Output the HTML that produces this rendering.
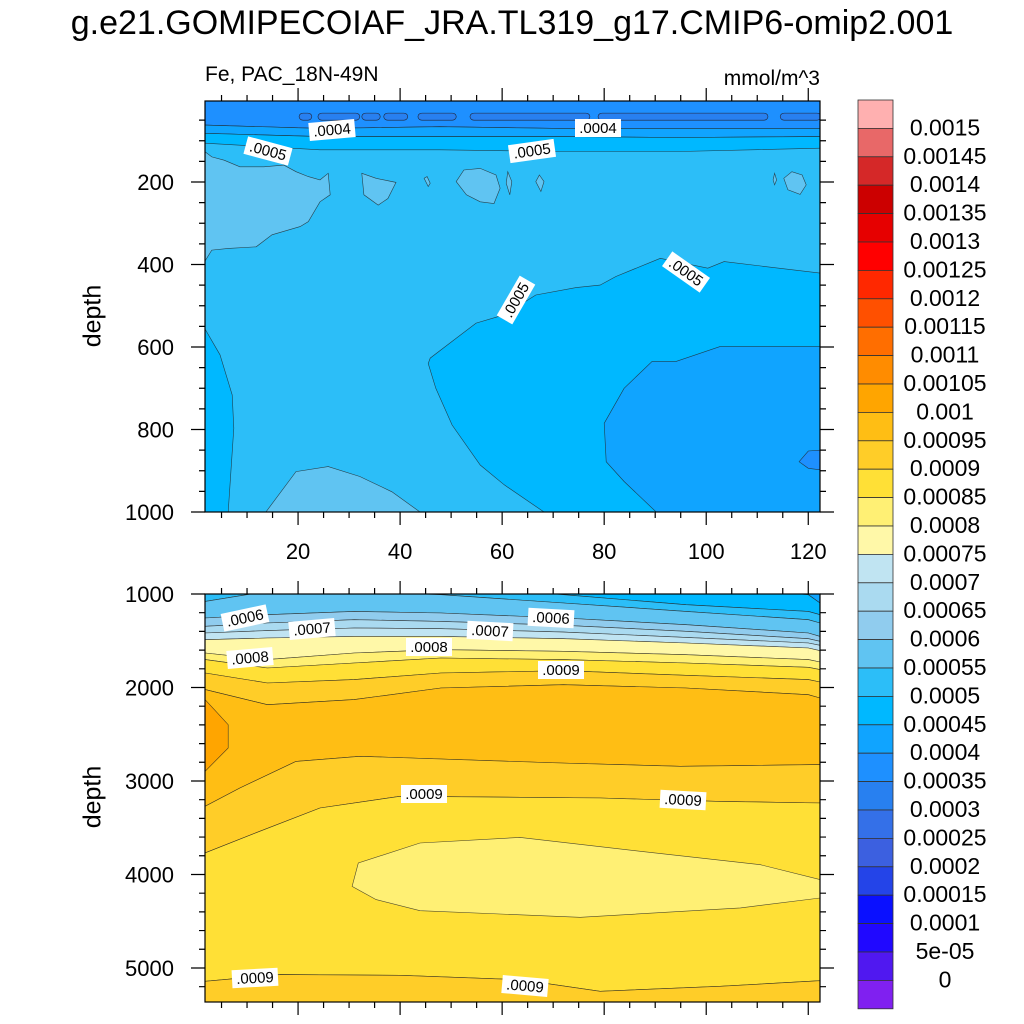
<!DOCTYPE html>
<html><head><meta charset="utf-8"><style>
body{margin:0;background:#fff;}
svg{display:block;font-family:"Liberation Sans",sans-serif;}
</style></head><body>
<svg id="c" width="1024" height="1024" viewBox="0 0 1024 1024"></svg>
<script>
// ---------- data ----------
const cbLevels = ["0.0015","0.00145","0.0014","0.00135","0.0013","0.00125","0.0012","0.00115","0.0011","0.00105","0.001","0.00095","0.0009","0.00085","0.0008","0.00075","0.0007","0.00065","0.0006","0.00055","0.0005","0.00045","0.0004","0.00035","0.0003","0.00025","0.0002","0.00015","0.0001","5e-05","0"];
const cbColors = ["#FFB0B0","#E86868","#D52828","#CC0000","#E60000","#FF0000","#FF2800","#FF5000","#FF6E00","#FF8C00","#FFA500","#FFBE14","#FFCD28","#FFE036","#FFF074","#FFF8A8","#C0E4F2","#AADAF0","#90CCEE","#60C4F2","#2CBEF8","#00B8FF","#10A4FF","#1E90FF","#2880F0","#3470E8","#3C60E0","#2444E8","#0A10FF","#2008FF","#5018F0","#8020F0"];
const xTicks = [20,40,60,80,100,120];
const topYTicks = [200,400,600,800,1000];
const botYTicks = [1000,2000,3000,4000,5000];

// top panel contour lines (months, depths)
const topLineX = [1.7,24.3,47.8,71.3,94.9,122.5];
const topL40 = [62,70,66,70,70,70];
const topL45 = [82,90,90,90,92,90];
const topL50 = [106,122,122,126,126,118];
const topDashes = [[20.2,22.7],[23.9,32.1],[32.5,36.1],[36.8,41.5],[43.5,51],[53.7,77.2],[78.8,112.1],[114.5,122.5]];
const topDashDepth = [33,50];
const topLightLeftX = [1.7,3.1,5.5,8.6,13.3,17.2,19.6,22.0,24.3,25.9,26.3,24.3,22.0,20.4,14.9,11.8,6.3,3.1,1.7];
const topLightLeftD = [126,139,147,163,163,159,175,187,195,179,231,248,296,308,328,357,361,365,393];
const topBlobs = [
 [[32.5,179],[35.3,191],[39.2,201],[37.6,240],[35.7,256],[32.9,231]],
 [[51,199],[52.5,171],[55.7,167],[58.8,183],[59.6,215],[58.4,252],[55.7,248],[53,231]],
 [[44.7,191],[45.3,187],[45.9,203],[45.5,211]],
 [[61.1,175],[61.9,199],[61.5,231],[60.8,203]],
 [[67.3,183],[68.2,199],[67.6,223],[66.6,199]],
 [[115.2,191],[116.8,175],[118.8,183],[119.6,207],[118.4,230],[116,219]],
 [[113.4,179],[113.8,195],[113.4,207],[113.1,195]]
];
const topMidX = [122.5,103.5,100.3,91,82.3,79.2,74.5,66.6,60.4,54.9,51,45.9,45.5,47.0,50.2,55.7,60.4,68.2,122.5];
const topMidD = [421,393,409,385,429,450,456,474,522,542,579,627,640,700,789,886,934,1000,1000];
const topDeepX = [80,83.9,89.4,94.1,102.7,122.5,122.5,90.2,83.9,80.4];
const topDeepD = [785,700,635,635,599,599,1000,1000,926,878];
const topPatchX = [122.5,120,118.2,120,122.5];
const topPatchD = [850,852,878,894,898];
const topStripX = [1.7,4.7,7.1,7.4,6.3,1.7];
const topStripD = [555,619,716,797,1000,1000];
const topBotBlobX = [13.7,19.6,25.9,32.1,38.4,43.9];
const topBotBlobD = [1000,902,890,914,951,1000];

// bottom panel contour lines
const botLineX = [1.8,14,31,48,72,96,120,122.3];
const bL45 = [865,865,865,865,865,900,1007,1096];
const bL50 = [865,865,865,900,1007,1114,1186,1221];
const bL55 = [1079,972,972,1007,1096,1186,1275,1310];
const bL60 = [1257,1221,1186,1203,1257,1328,1417,1453];
const bL65 = [1346,1310,1275,1293,1335,1399,1478,1506];
const bL70 = [1417,1392,1364,1371,1407,1464,1524,1549];
const bL75 = [1489,1471,1453,1453,1478,1524,1578,1606];
const bL80 = [1631,1702,1631,1596,1613,1649,1702,1727];
const bL85 = [1702,1792,1738,1685,1702,1738,1784,1809];
const bL90 = [1845,1952,1916,1845,1820,1870,1916,1941];
const bL95 = [2023,2184,2130,2005,1970,2005,2077,2112];
const orangeSpotX = [1.76,3.9,6.3,6.3,1.76];
const orangeSpotD = [2130,2255,2398,2647,2897];
const lowOrangeX = [1.76,8.6,19.6,32.2,71.4,94.9,122.3];
const lowOrangeD = [3271,3075,2790,2736,2808,2843,2825];
const low90X = [1.76,12.5,24.3,40,79.2,102.7,122.3];
const low90D = [3770,3538,3289,3164,3182,3218,3235];
const ellipseX = [30.6,31.8,43.9,63.5,87.1,110.6,122.3,122.3,106.7,75.3,43.9,35.3];
const ellipseD = [4127,3877,3663,3603,3752,3895,4055,4252,4358,4458,4387,4269];
const bot90X = [1.76,16.5,40,63.5,79.2,102.7,122.3];
const bot90D = [5143,5071,5078,5125,5250,5196,5136];

// ---------- axes ----------
const X0=205,X1=820, XM0=1.76, XM1=122.3;
const sx = m => X0 + (m-XM0)*(X1-X0)/(XM1-XM0);
const T0=101,T1=512, TD0=3.6, TD1=1000;
const syT = d => T0 + (d-TD0)*(T1-T0)/(TD1-TD0);
const B0=594,B1=1002, BD0=1000, BD1=5364;
const syB = d => B0 + (d-BD0)*(B1-B0)/(BD1-BD0);

const NS="http://www.w3.org/2000/svg";
const svg=document.getElementById('c');
function mk(tag,attrs,parent){const e=document.createElementNS(NS,tag);for(const k in attrs)e.setAttribute(k,attrs[k]);(parent||svg).appendChild(e);return e;}
function pts(xs,ds,sy){return xs.map((x,i)=>sx(x).toFixed(1)+','+sy(ds[i]).toFixed(1));}
function poly(p,fill,parent,name){const e=mk('polygon',{points:p.join(' '),fill:fill,stroke:'#222','stroke-width':0.6,'stroke-opacity':0.8},parent);


return e;}
function band(xs,up,lo,sy,fill,parent,name){
 const a = up? pts(xs,up,sy) : xs.map(x=>sx(x).toFixed(1)+','+(sy===syT?T0:B0));
 const b = lo? pts(xs,lo,sy).reverse() : xs.map(x=>sx(x).toFixed(1)+','+(sy===syT?T1:B1)).reverse();
 return poly(a.concat(b),fill,parent,name);
}
const defs=mk('defs',{});
const cp1=mk('clipPath',{id:'cpT'},defs); mk('rect',{x:X0,y:T0,width:X1-X0,height:T1-T0},cp1);
const cp2=mk('clipPath',{id:'cpB'},defs); mk('rect',{x:X0,y:B0,width:X1-X0,height:B1-B0},cp2);

// ---------- top panel ----------
const gT=mk('g',{'clip-path':'url(#cpT)'});


mk('rect',{x:X0,y:T0,width:X1-X0,height:T1-T0,fill:'#2CBEF8'},gT);
band(topLineX,null,topL40,syT,'#1E90FF',gT,'band-0.00035');
topDashes.forEach(s=>{const e=mk('rect',{x:sx(s[0]),y:syT(topDashDepth[0]),width:sx(s[1])-sx(s[0]),height:syT(topDashDepth[1])-syT(topDashDepth[0]),rx:4,fill:'#2880F0',stroke:'#223','stroke-width':0.6},gT);

});
band(topLineX,topL40,topL45,syT,'#10A4FF',gT,'band-0.0004');
band(topLineX,topL45,topL50,syT,'#00B8FF',gT,'band-0.00045');
poly(pts(topLightLeftX,topLightLeftD,syT),'#60C4F2',gT,'region-0.00055-left');
topBlobs.forEach(b=>poly(b.map(p=>sx(p[0]).toFixed(1)+','+syT(p[1]).toFixed(1)),'#60C4F2',gT,'blob-0.00055'));
poly(pts(topMidX,topMidD,syT),'#00B8FF',gT,'region-0.00045');
poly(pts(topDeepX,topDeepD,syT),'#10A4FF',gT,'region-0.0004');
poly(pts(topPatchX,topPatchD,syT),'#1E90FF',gT,'region-0.00035');
poly(pts(topStripX,topStripD,syT),'#00B8FF',gT,'strip-0.00045-left');
poly(pts(topBotBlobX,topBotBlobD,syT),'#60C4F2',gT,'blob-0.00055-bottom');

// ---------- bottom panel ----------
const gB=mk('g',{'clip-path':'url(#cpB)'});


mk('rect',{x:X0,y:B0,width:X1-X0,height:B1-B0,fill:'#FFCD28'},gB);
const bl=[null,bL45,bL50,bL55,bL60,bL65,bL70,bL75,bL80,bL85,bL90,bL95];
const blc=['#10A4FF','#00B8FF','#2CBEF8','#60C4F2','#90CCEE','#AADAF0','#C0E4F2','#FFF8A8','#FFF074','#FFE036','#FFCD28'];
for(let i=0;i<blc.length;i++) band(botLineX,bl[i],bl[i+1],syB,blc[i],gB,'band-'+i);
poly(pts(botLineX,bL95,syB).concat(pts(lowOrangeX,lowOrangeD,syB).reverse()),'#FFBE14',gB,'band-0.00095');
poly(pts(orangeSpotX,orangeSpotD,syB),'#FFA500',gB,'spot-0.001');
poly(pts(lowOrangeX,lowOrangeD,syB).concat(pts(low90X,low90D,syB).reverse()),'#FFCD28',gB,'band-0.0009-lower');
poly(pts(low90X,low90D,syB).concat(pts(bot90X,bot90D,syB).reverse()),'#FFE036',gB,'band-0.00085-lower');
poly(pts(ellipseX,ellipseD,syB),'#FFF074',gB,'region-0.0008');
poly(pts(bot90X,bot90D,syB).concat([sx(XM1)+','+B1,sx(XM0)+','+B1]),'#FFCD28',gB,'band-0.0009-bottom');

// ---------- contour labels ----------
const labels=[[332,130,-5,'.0004'],[598,128,0,'.0004'],[268,151,15,'.0005'],[532,151,-8,'.0005'],[516,300,-60,'.0005'],[686,272,35,'.0005'],
[245,618,-12,'.0006'],[551,618,3,'.0006'],[312,629,-5,'.0007'],[490,631,3,'.0007'],[250,658,-5,'.0008'],[429,647,0,'.0008'],[561,670,0,'.0009'],[424,794,0,'.0009'],[683,800,3,'.0009'],[255,978,-3,'.0009'],[525,986,5,'.0009']];
labels.forEach(l=>{const g=mk('g',{transform:`translate(${l[0]},${l[1]}) rotate(${l[2]})`});


mk('rect',{x:-23,y:-9,width:46,height:18,fill:'#fff'},g);
const t=mk('text',{x:0,y:5,'text-anchor':'middle','font-size':15},g);t.textContent=l[3];});

// ---------- frames & ticks ----------
function frame(y0,y1,sy,yt,minorY,name){
 const r=mk('rect',{x:X0,y:y0,width:X1-X0,height:y1-y0,fill:'none',stroke:'#000','stroke-width':1.2});
 
 
 let p='';
 for(let m=5;m<=120;m+=5){const x=sx(m),L=(m%20===0)?13:6;p+=`M${x},${y0}v${-L}M${x},${y1}v${L}`;}
 minorY.forEach(d=>{const y=sy(d);const L=yt.includes(d)?14:6;p+=`M${X0},${y}h${-L}M${X1},${y}h${L}`;});
 mk('path',{d:p,stroke:'#000','stroke-width':1.2,fill:'none'});
 yt.forEach(d=>{const t=mk('text',{x:X0-31,y:sy(d)+8,'text-anchor':'end','font-size':22});t.textContent=d;
 
 });
}
const mT=[];for(let d=50;d<=1000;d+=50)mT.push(d);
const mB=[];for(let d=1000;d<=5200;d+=200)mB.push(d);
frame(T0,T1,syT,topYTicks,mT,'top-panel-frame');
frame(B0,B1,syB,botYTicks,mB,'bottom-panel-frame');
xTicks.forEach(m=>{const t=mk('text',{x:sx(m),y:559,'text-anchor':'middle','font-size':22});t.textContent=m;

});

// ---------- colorbar ----------
const CBX=858,CBW=35,CBY=100,CBH=28.4;
cbColors.forEach((c,i)=>{const r=mk('rect',{x:CBX,y:CBY+i*CBH,width:CBW,height:CBH,fill:c,stroke:'#333','stroke-width':0.8});

});
cbLevels.forEach((l,i)=>{const t=mk('text',{x:945,y:CBY+(i+1)*CBH+7,'text-anchor':'middle','font-size':23});t.textContent=l;

});
</script>
<div style="position:absolute;left:0;top:0;width:1024px;height:1024px;pointer-events:none;font-family:'Liberation Sans',sans-serif;">
<div style="position:absolute;left:0;width:1024px;top:4px;text-align:center;font-size:34px;white-space:nowrap;">g.e21.GOMIPECOIAF_JRA.TL319_g17.CMIP6-omip2.001</div>
<div style="position:absolute;left:205px;top:63px;font-size:21px;white-space:nowrap;">Fe, PAC_18N-49N</div>
<div style="position:absolute;right:204px;top:67px;font-size:21px;white-space:nowrap;">mmol/m^3</div>
<div style="position:absolute;left:93px;top:316px;font-size:25px;transform:translate(-50%,-50%) rotate(-90deg);">depth</div>
<div style="position:absolute;left:93px;top:797px;font-size:25px;transform:translate(-50%,-50%) rotate(-90deg);">depth</div>
</div>
</body></html>
